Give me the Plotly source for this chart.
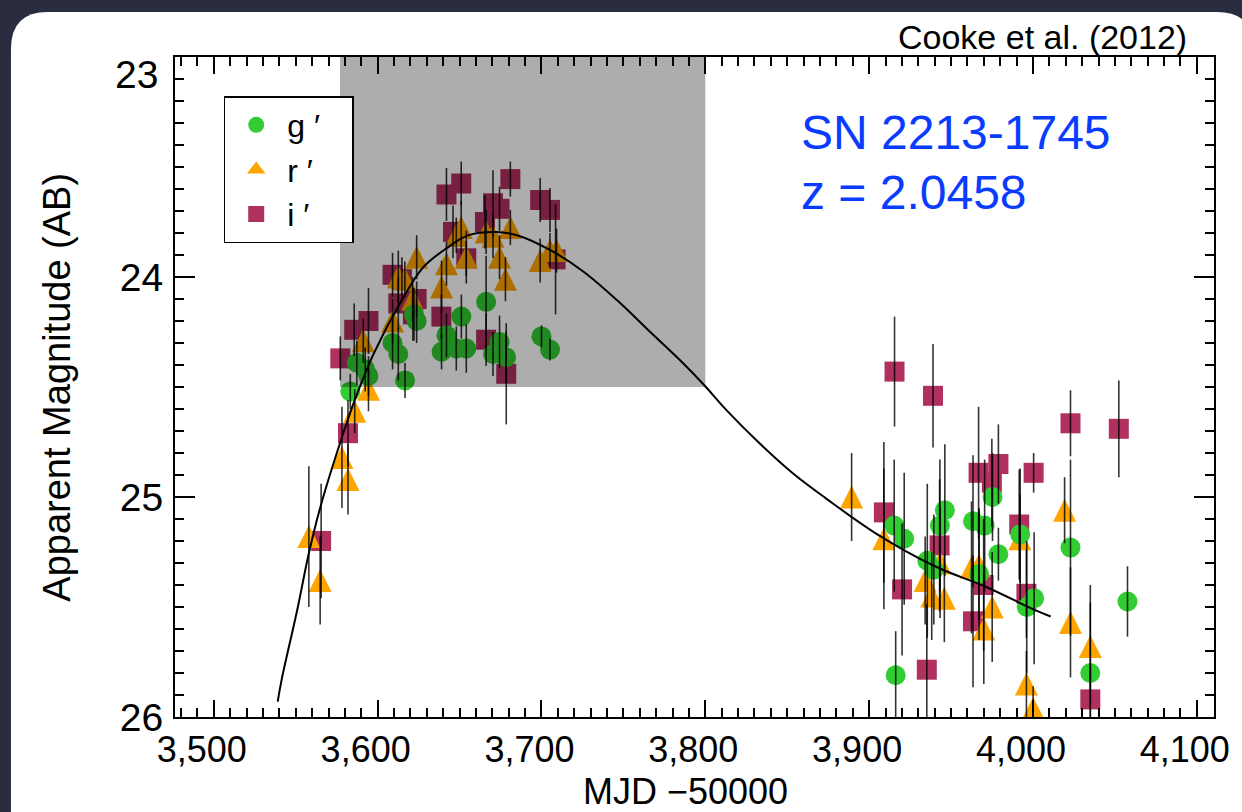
import plotly.graph_objects as go

# ---- light-curve data: MJD-50000, AB magnitude, 1-sigma error ----
g_mjd = [3583.3, 3587.3, 3592.4, 3594.4, 3609.1, 3612.6, 3616.7, 3622.2, 3623.8, 3639.0,
         3642.0, 3648.0, 3651.1, 3654.1, 3666.2, 3670.4, 3674.4, 3678.4, 3700.0, 3705.2,
         3915.3, 3921.4, 3935.5, 3939.5, 3943.2, 3946.2, 3963.4, 3970.5, 3975.3, 3967.1,
         3978.9, 3992.2, 3996.2, 4000.7, 4022.9, 4057.7, 3916.2, 4035.0]
g_mag = [24.52, 24.39, 24.42, 24.45, 24.30, 24.35, 24.47, 24.17, 24.20, 24.34,
         24.265, 24.325, 24.18, 24.325, 24.113, 24.35, 24.295, 24.365, 24.27, 24.33,
         25.13, 25.19, 25.29, 25.33, 25.13, 25.06, 25.11, 25.13, 25.00, 25.35,
         25.26, 25.17, 25.50, 25.46, 25.23, 25.475, 25.81, 25.80]
g_err = [0.08, 0.10, 0.10, 0.09, 0.12, 0.12, 0.08, 0.12, 0.10, 0.08,
         0.10, 0.10, 0.10, 0.11, 0.21, 0.10, 0.12, 0.12, 0.05, 0.05,
         0.30, 0.30, 0.35, 0.25, 0.30, 0.30, 0.30, 0.30, 0.20, 0.30,
         0.12, 0.30, 0.30, 0.30, 0.40, 0.16, 0.20, 0.40]

r_mjd = [3558.0, 3564.9, 3578.2, 3581.9, 3586.0, 3591.2, 3594.4, 3609.1, 3612.6, 3616.6,
         3621.3, 3623.8, 3639.0, 3642.0, 3648.0, 3651.0, 3654.1, 3666.2, 3670.4, 3674.4,
         3678.0, 3681.0, 3699.2, 3705.2, 3709.2,
         3889.3, 3909.0, 3934.2, 3938.2, 3943.3, 3945.9, 3962.5, 3967.0, 3970.0, 3975.1,
         3992.0, 4019.3, 4022.9, 4035.0, 3996.0, 4000.1]
r_mag = [25.18, 25.38, 24.82, 24.92, 24.61, 24.29, 24.51, 24.20, 24.00, 24.01,
         24.10, 23.91, 24.045, 23.94, 23.81, 23.775, 23.91, 23.795, 23.815, 23.91,
         24.01, 23.775, 23.925, 23.88, 23.88,
         25.00, 25.19, 25.38, 25.45, 25.30, 25.46, 25.32, 25.31, 25.60, 25.50,
         25.19, 25.06, 25.57, 25.68, 25.85, 25.96]
r_err = [0.32, 0.20, 0.23, 0.16, 0.10, 0.10, 0.10, 0.10, 0.12, 0.08,
         0.10, 0.10, 0.12, 0.10, 0.08, 0.12, 0.12, 0.10, 0.10, 0.10,
         0.10, 0.08, 0.10, 0.08, 0.10,
         0.20, 0.32, 0.20, 0.20, 0.25, 0.20, 0.30, 0.25, 0.25, 0.25,
         0.20, 0.15, 0.25, 0.20, 0.15, 0.10]

i_mjd = [3565.5, 3577.2, 3581.9, 3585.7, 3594.4, 3609.1, 3614.8, 3612.6, 3621.5, 3623.8,
         3638.9, 3642.0, 3646.0, 3651.0, 3654.1, 3665.5, 3666.2, 3670.4, 3674.4, 3678.5,
         3681.0, 3699.2, 3705.2, 3708.6,
         3915.5, 3939.0, 4022.9, 4052.4, 3909.0, 3966.8, 3978.9, 3974.9, 4000.4, 3991.6,
         3943.0, 3920.1, 3969.9, 3996.0, 3963.4, 3935.2, 4035.0]
i_mag = [25.20, 24.37, 24.71, 24.24, 24.20, 23.99, 24.01, 24.12, 24.17, 24.10,
         24.18, 23.625, 23.795, 23.575, 23.915, 23.75, 24.285, 23.665, 23.69, 24.44,
         23.555, 23.65, 23.695, 23.92,
         24.43, 24.54, 24.665, 24.69, 25.07, 24.89, 24.85, 24.935, 24.89, 25.125,
         25.22, 25.42, 25.40, 25.44, 25.565, 25.785, 25.92]
i_err = [0.26, 0.10, 0.15, 0.12, 0.15, 0.10, 0.10, 0.12, 0.12, 0.08,
         0.10, 0.12, 0.12, 0.10, 0.08, 0.12, 0.12, 0.15, 0.10, 0.23,
         0.08, 0.10, 0.10, 0.25,
         0.25, 0.235, 0.15, 0.22, 0.32, 0.30, 0.18, 0.20, 0.09, 0.25,
         0.30, 0.30, 0.30, 0.20, 0.30, 0.30, 0.15]

# model light curve
model_mjd = [3539.0, 3541.4, 3551.0, 3558.0, 3565.1, 3577.3, 3586.4, 3597.6, 3614.7, 3627.9,
             3643.1, 3655.1, 3672.3, 3685.5, 3705.7, 3725.9, 3746.2, 3766.4, 3786.6, 3799.4,
             3812.9, 3833.1, 3853.4, 3873.6, 3904.0, 3940.5, 3970.8, 4001.0, 4010.8]
model_mag = [25.93, 25.83, 25.51, 25.256, 25.044, 24.749, 24.552, 24.348, 24.106, 23.955,
             23.864, 23.811, 23.796, 23.811, 23.879, 23.977, 24.106, 24.25, 24.393, 24.492,
             24.605, 24.756, 24.892, 25.006, 25.165, 25.316, 25.407, 25.513, 25.543]

# shaded epoch window (MJD range, magnitude range)
shade_mjd = [3577.0, 3800.0]
shade_mag = [23.0, 24.5]

x_ticks = [3500, 3600, 3700, 3800, 3900, 4000, 4100]
x_ticklabels = ["3,500", "3,600", "3,700", "3,800", "3,900", "4,000", "4,100"]
y_ticks = [23, 24, 25, 26]
y_ticklabels = ["23", "24", "25", "26"]

FONT = "Liberation Sans, Arial, Helvetica, sans-serif"
W, H = 1242, 812
ML, MR, MT, MB = 175, 22, 57, 95
PW, PH = W - ML - MR, H - MT - MB

COL_G, COL_R, COL_I = "#32cd32", "#ffa500", "#b03060"
NBSP = "\u00a0"
TRI_SIZE = 23


def px(xp):
    return (xp - ML) / PW


def py(yp):
    return (H - MB - yp) / PH


fig = go.Figure()

# symbols: squares (i'), triangles (r'), circles (g') on top
fig.add_trace(go.Scatter(
    x=i_mjd, y=i_mag, mode="markers", showlegend=False,
    marker=dict(symbol="square", color=COL_I, size=20, line=dict(width=0)),
    hoverinfo="skip",
))
# upward triangle centred on the point: a down-arrow glyph turned over and
# moved back by half its height
fig.add_trace(go.Scatter(
    x=r_mjd, y=r_mag, mode="markers", showlegend=False,
    marker=dict(symbol="arrow-down", color=COL_R, size=TRI_SIZE, angle=180,
                standoff=TRI_SIZE / 2, line=dict(width=0)),
    hoverinfo="skip",
))
fig.add_trace(go.Scatter(
    x=g_mjd, y=g_mag, mode="markers", showlegend=False,
    marker=dict(symbol="circle", color=COL_G, size=20, line=dict(width=0)),
    hoverinfo="skip",
))

# error bars drawn over the symbols
for xs, ys, es in [(i_mjd, i_mag, i_err), (r_mjd, r_mag, r_err), (g_mjd, g_mag, g_err)]:
    fig.add_trace(go.Scatter(
        x=xs, y=ys, mode="markers", showlegend=False,
        marker=dict(size=1, color="rgba(0,0,0,0)"),
        error_y=dict(type="data", array=es, visible=True, width=0,
                     thickness=1.6, color="rgba(0,0,0,0.8)"),
        hoverinfo="skip",
    ))

fig.add_trace(go.Scatter(
    x=model_mjd, y=model_mag, mode="lines", showlegend=False,
    line=dict(color="black", width=2, shape="spline", smoothing=1.0),
    hoverinfo="skip",
))

# legend keys
pad = NBSP * 3
for name, sym, col in [("g ′", "circle", COL_G), ("r ′", "triangle-up", COL_R),
                       ("i ′", "square", COL_I)]:
    fig.add_trace(go.Scatter(
        x=[None], y=[None], mode="markers", name=name + pad,
        marker=dict(symbol=sym, color=col, size=16, line=dict(width=0)),
    ))

# white rounded panel behind the chart
r = 37
L, T, R, B = 10, 12, 1260, 840
panel_path = (
    f"M {px(L)},{py(B)} L {px(L)},{py(T + r)} Q {px(L)},{py(T)} {px(L + r)},{py(T)} "
    f"L {px(R - r)},{py(T)} Q {px(R)},{py(T)} {px(R)},{py(T + r)} L {px(R)},{py(B)} Z"
)

shapes = [
    dict(type="path", path=panel_path, xref="paper", yref="paper",
         fillcolor="white", line=dict(width=0), layer="below"),
    dict(type="rect", xref="x", yref="y",
         x0=shade_mjd[0], x1=shade_mjd[1], y0=shade_mag[0], y1=shade_mag[1],
         fillcolor="black", opacity=0.32, line=dict(width=0), layer="above"),
]

annotations = [
    dict(text="SN 2213-1745", x=px(803), y=py(133), xref="paper", yref="paper",
         xanchor="left", yanchor="middle", showarrow=False,
         font=dict(family=FONT, size=48, color="#0a3cff")),
    dict(text="z = 2.0458", x=px(803), y=py(192), xref="paper", yref="paper",
         xanchor="left", yanchor="middle", showarrow=False,
         font=dict(family=FONT, size=48, color="#0a3cff")),
    dict(text="Cooke et al. (2012)", x=px(1195), y=py(37), xref="paper", yref="paper",
         xanchor="right", yanchor="middle", showarrow=False,
         font=dict(family=FONT, size=34, color="black")),
    dict(text="MJD −50000", x=px(688), y=py(791), xref="paper", yref="paper",
         xanchor="center", yanchor="middle", showarrow=False,
         font=dict(family=FONT, size=36, color="black")),
    dict(text="Apparent Magnitude (AB)", x=px(56), y=py(387), xref="paper", yref="paper",
         xanchor="center", yanchor="middle", textangle=-90, showarrow=False,
         font=dict(family=FONT, size=38, color="black")),
    # top magnitude label sits just below the frame
    dict(text=y_ticklabels[0], x=px(160), y=y_ticks[0], xref="paper", yref="y",
         xanchor="right", yanchor="middle", yshift=-17, showarrow=False,
         font=dict(family=FONT, size=39, color="black")),
]

fig.update_layout(
    width=W, height=H, autosize=False,
    margin=dict(l=ML, r=MR, t=MT, b=MB, pad=0),
    paper_bgcolor="#2a2c40",
    plot_bgcolor="white",
    font=dict(family=FONT, color="black"),
    shapes=shapes,
    annotations=annotations,
    showlegend=True,
    legend=dict(
        x=px(224), y=py(96), xanchor="left", yanchor="top",
        bgcolor="white", bordercolor="black", borderwidth=1.5,
        font=dict(family=FONT, size=32, color="black"),
        traceorder="normal", itemsizing="trace", itemwidth=52,
    ),
    xaxis=dict(
        range=[3476.3, 4110.5],
        tickmode="array", tickvals=x_ticks, ticktext=x_ticklabels,
        ticks="inside", ticklen=17, tickwidth=2, tickcolor="black",
        showline=True, linecolor="black", linewidth=2, mirror="allticks",
        showgrid=False, zeroline=False,
        tickfont=dict(family=FONT, size=36, color="black"),
        ticklabelshift=-12, ticklabelstandoff=0,
        minor=dict(tickmode="linear", tick0=3500, dtick=10, ticks="inside",
                   ticklen=9, tickwidth=1.5, tickcolor="black", showgrid=False),
    ),
    yaxis=dict(
        range=[26, 23],
        tickmode="array", tickvals=y_ticks, ticktext=[""] + y_ticklabels[1:],
        ticks="inside", ticklen=20, tickwidth=2, tickcolor="black",
        showline=True, linecolor="black", linewidth=2, mirror="allticks",
        showgrid=False, zeroline=False,
        tickfont=dict(family=FONT, size=39, color="black"),
        ticklabelstandoff=2,
        minor=dict(tickmode="linear", tick0=23, dtick=0.1, ticks="inside",
                   ticklen=9, tickwidth=1.5, tickcolor="black", showgrid=False),
    ),
)

fig.write_html("out.html")
